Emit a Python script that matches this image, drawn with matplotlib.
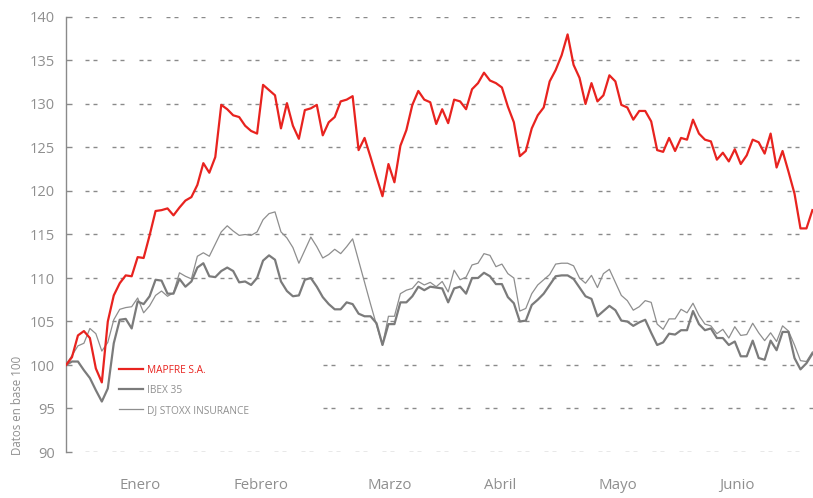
import matplotlib
matplotlib.use("Agg")
import matplotlib.pyplot as plt
import numpy as np

# ---- data (base 100) ----
mapfre = [100.0, 100.9, 103.4, 103.9, 103.1, 99.6, 98.0, 105.0, 108.0, 109.4,
          110.3, 110.2, 112.4, 112.3, 114.9, 117.7, 117.8, 118.0, 117.2, 118.1,
          118.9, 119.3, 120.7, 123.2, 122.1, 123.9, 129.9, 129.4, 128.7, 128.5,
          127.5, 126.9, 126.6, 132.2, 131.6, 131.0, 127.2, 130.1, 127.5, 126.0,
          129.3, 129.5, 129.9, 126.4, 127.9, 128.5, 130.3, 130.5, 130.9, 124.7,
          126.1, 123.9, 121.6, 119.4, 123.1, 121.0, 125.2, 127.0, 129.9, 131.5,
          130.5, 130.2, 127.7, 129.4, 127.8, 130.5, 130.3, 129.4, 131.7, 132.4,
          133.6, 132.7, 132.4, 131.9, 129.7, 127.9, 124.0, 124.6, 127.2, 128.7,
          129.6, 132.6, 133.9, 135.6, 138.0, 134.5, 133.0, 130.0, 132.4, 130.3,
          131.0, 133.3, 132.6, 129.9, 129.6, 128.2, 129.2, 129.2, 128.0, 124.7,
          124.5, 126.1, 124.6, 126.1, 125.9, 128.2, 126.6, 125.9, 125.7, 123.6,
          124.4, 123.4, 124.8, 123.1, 124.1, 125.9, 125.6, 124.3, 126.6, 122.7,
          124.6, 122.2, 119.7, 115.7, 115.7, 117.8]

ibex = [100.0, 100.4, 100.4, 99.4, 98.5, 97.1, 95.8, 97.3, 102.5, 105.2,
        105.3, 104.2, 107.3, 107.0, 107.9, 109.8, 109.7, 108.2, 108.2, 109.9,
        109.0, 109.6, 111.2, 111.7, 110.2, 110.1, 110.8, 111.2, 110.8, 109.5,
        109.6, 109.2, 110.0, 112.0, 112.6, 112.1, 109.6, 108.5, 107.9, 108.0,
        109.8, 110.0, 109.0, 107.8, 107.0, 106.4, 106.4, 107.2, 107.0, 105.9,
        105.6, 105.6, 104.8, 102.3, 104.7, 104.7, 107.2, 107.2, 107.9, 109.0,
        108.6, 109.0, 108.9, 108.8, 107.2, 108.8, 109.0, 108.2, 110.0, 110.0,
        110.6, 110.2, 109.3, 109.3, 107.8, 107.1, 105.0, 105.1, 106.9, 107.5,
        108.2, 109.2, 110.2, 110.3, 110.3, 109.9, 108.9, 107.9, 107.6, 105.6,
        106.2, 106.8, 106.3, 105.1, 105.0, 104.5, 104.9, 105.2, 103.7, 102.3,
        102.6, 103.6, 103.5, 104.0, 104.0, 106.2, 104.7, 104.0, 104.2, 103.1,
        103.1, 102.3, 102.7, 101.0, 101.0, 102.8, 100.8, 100.6, 102.8, 101.7,
        103.8, 103.8, 100.8, 99.5, 100.2, 101.3]

djstoxx = [100.0, 101.1, 102.2, 102.5, 104.2, 103.6, 101.6, 102.6, 105.2, 106.4,
           106.6, 106.7, 107.7, 106.0, 106.8, 108.0, 108.5, 107.9, 108.3, 110.6,
           110.2, 109.9, 112.5, 112.9, 112.5, 113.9, 115.3, 116.0, 115.4, 114.9,
           115.0, 114.9, 115.3, 116.7, 117.4, 117.6, 115.3, 114.6, 113.5, 111.7,
           113.2, 114.7, 113.6, 112.3, 112.7, 113.3, 112.8, 113.6, 114.5, 112.0,
           109.5, 107.0, 104.6, 102.3, 105.6, 105.6, 108.2, 108.6, 108.8, 109.6,
           109.2, 109.5, 109.0, 109.6, 108.4, 110.9, 109.8, 110.1, 111.5, 111.7,
           112.8, 112.6, 111.3, 111.6, 110.5, 110.0, 106.2, 106.5, 108.2, 109.2,
           109.8, 110.4, 111.6, 111.7, 111.7, 111.4, 110.0, 109.4, 110.3, 108.9,
           110.5, 111.0, 109.5, 108.0, 107.4, 106.3, 106.7, 107.4, 107.2, 104.7,
           104.1, 105.3, 105.3, 106.4, 106.0, 107.1, 105.7, 104.7, 104.5, 103.6,
           104.1, 103.1, 104.4, 103.4, 103.5, 104.8, 103.7, 102.8, 103.7, 102.7,
           104.5, 103.9, 102.3, 100.5, 100.4, 101.5]

series_labels = ["MAPFRE S.A.", "IBEX 35", "DJ STOXX INSURANCE"]
month_labels = ["Enero", "Febrero", "Marzo", "Abril", "Mayo", "Junio"]
month_pos = [12.4, 32.6, 54.2, 72.7, 92.5, 112.3]
y_ticks = [90, 95, 100, 105, 110, 115, 120, 125, 130, 135, 140]
y_label = "Datos en base 100"

# ---- style ----
plt.rcParams['font.family'] = ['Open Sans', 'DejaVu Sans']
RED = "#e8231f"
G_IBEX = "#7b7b7b"
G_DJ = "#8e8e8e"
TXT = "#8f8f8f"
GRID = "#8a8a8a"

W, H = 813, 498
fig = plt.figure(figsize=(W / 100, H / 100), dpi=100)
ax = fig.add_axes([66 / W, (H - 452) / H, 750 / W, 435 / H])

x = np.arange(len(mapfre))
px = 0.72  # one pixel in points
xmax = 125.6
ax.set_xlim(0, xmax)
unit_px = 750 / xmax  # pixels per x unit

# dashed grid lines: pairs of short dashes
for yv in y_ticks:
    start_px = 242 if yv in (95, 100) else 4   # legend area kept clear
    ax.hlines(yv, start_px / unit_px, xmax, color=GRID, lw=1.0, zorder=0,
              linestyles=[(12 * px, (4 * px, 4 * px, 4 * px, 15 * px))])

ax.plot(x, djstoxx, color=G_DJ, lw=0.9, label=series_labels[2], zorder=2)
ax.plot(x, ibex, color=G_IBEX, lw=1.6, label=series_labels[1], zorder=3)
ax.plot(x, mapfre, color=RED, lw=1.6, label=series_labels[0], zorder=4)

ax.set_ylim(90, 140)

for s in ["top", "right", "bottom"]:
    ax.spines[s].set_visible(False)
ax.spines["left"].set_color(GRID)
ax.spines["left"].set_linewidth(1.0)

ax.set_yticks(y_ticks)
ax.set_yticklabels([str(v) for v in y_ticks])
ax.tick_params(axis="y", direction="in", length=4, width=1.0, color=GRID,
               pad=8, labelsize=10.5, labelcolor=TXT)
ax.set_xticks(month_pos)
ax.set_xticklabels(month_labels)
ax.tick_params(axis="x", length=0, pad=19, labelsize=10.8, labelcolor=TXT)

fig.text(18 / W, 1 - 405 / H, y_label, rotation=90, ha="center", va="center",
         fontsize=8.3, color=TXT)

h, l = ax.get_legend_handles_labels()
order = [2, 1, 0]
leg = ax.legend([h[i] for i in order], [l[i] for i in order],
                loc="upper left", bbox_to_anchor=(119 / W, 1 - 365 / H),
                bbox_transform=fig.transFigure, frameon=False,
                fontsize=7.3, handlelength=2.4, handletextpad=0.4,
                borderpad=0, borderaxespad=0, labelspacing=0.88)
for t, c in zip(leg.get_texts(), [RED, TXT, TXT]):
    t.set_color(c)

fig.savefig("out.png", dpi=100)
